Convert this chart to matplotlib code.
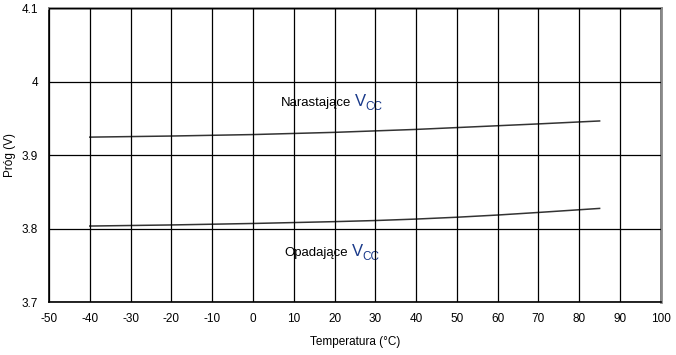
import matplotlib
matplotlib.use("Agg")
import matplotlib.pyplot as plt
import numpy as np
from matplotlib.transforms import offset_copy

plt.rcParams['font.family'] = ['Liberation Sans', 'DejaVu Sans']

# odczyt z wykresu
temp = [-40, -20, 0, 20, 30, 40, 50, 60, 70, 85]
rising = [3.9245, 3.926, 3.928, 3.931, 3.933, 3.935, 3.9375, 3.940, 3.9425, 3.9465]
falling = [3.8035, 3.805, 3.807, 3.8095, 3.811, 3.813, 3.8155, 3.8185, 3.822, 3.8275]

xticks = np.arange(-50, 101, 10)
yticks = [3.7, 3.8, 3.9, 4.0, 4.1]
yticklabels = ["3.7", "3.8", "3.9", "4", "4.1"]

fig = plt.figure(figsize=(6.76, 3.55), dpi=100)
ax = fig.add_axes([0.0725, 0.149, 0.905, 0.828])

ax.plot(temp, rising, color="#333333", lw=1.1, zorder=1)
ax.plot(temp, falling, color="#333333", lw=1.1, zorder=1)

ax.set_xlim(-50, 100)
ax.set_ylim(3.7, 4.1)
ax.set_xticks(xticks)
ax.set_xticklabels([str(t) for t in xticks])
ax.set_yticks(yticks)
ax.set_yticklabels(yticklabels)
ax.grid(True, color="black", lw=0.9, zorder=2)
ax.set_axisbelow(False)
ax.tick_params(length=0, labelsize=8.5, pad=8)

for s in ["left", "bottom"]:
    ax.spines[s].set_color("black")
    ax.spines[s].set_linewidth(1.2)
for s in ["top", "right"]:
    ax.spines[s].set_color("#8a8a8a")
    ax.spines[s].set_linewidth(2)

ax.set_xlabel("Temperatura (°C)", fontsize=8.5, labelpad=8)
ax.set_ylabel("Próg (V)", fontsize=8.5, labelpad=4)

blue = "#1a3a8a"
renderer = fig.canvas.get_renderer()


def label_vcc(x, y, word):
    t = ax.text(x, y, word, fontsize=9.5, va="baseline", zorder=0)
    w = t.get_window_extent(renderer).width + 4
    tr = offset_copy(ax.transData, fig=fig, x=w, y=0, units="dots")
    v = ax.text(x, y, "V", fontsize=12, color=blue, va="baseline", zorder=0, transform=tr)
    wv = v.get_window_extent(renderer).width
    tr2 = offset_copy(ax.transData, fig=fig, x=w + wv - 1, y=-4, units="dots")
    ax.text(x, y, "CC", fontsize=8.5, color=blue, va="baseline", zorder=0, transform=tr2)


label_vcc(6.8, 3.9665, "Narastające")
label_vcc(7.8, 3.763, "Opadające")

fig.savefig("out.png", dpi=100)
